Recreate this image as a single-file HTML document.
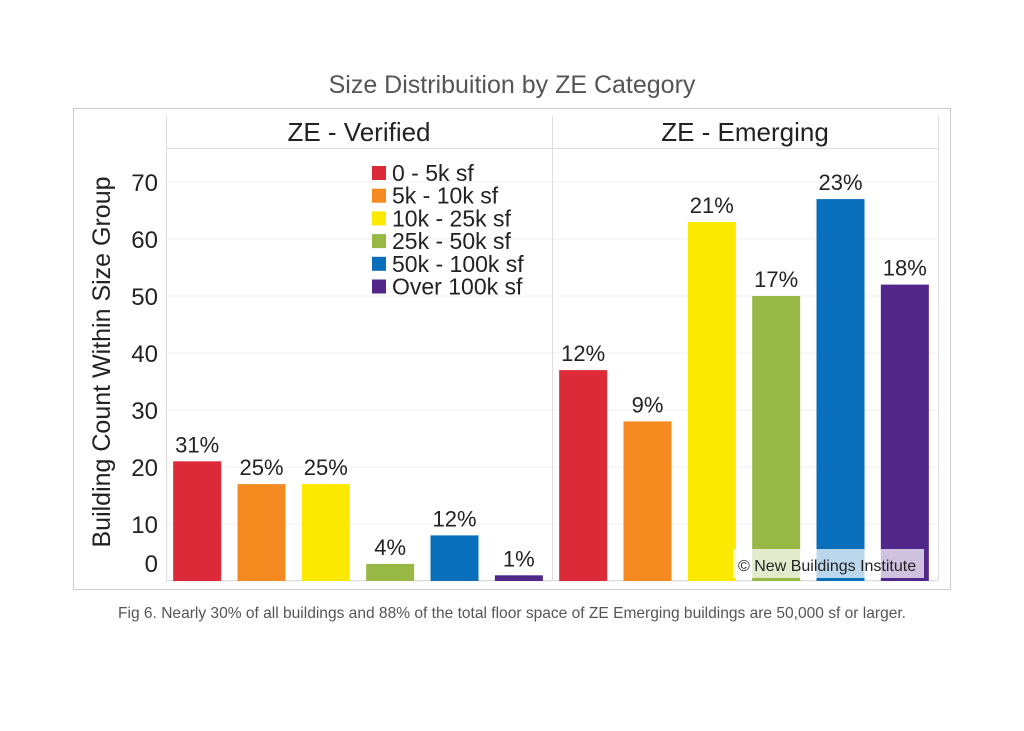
<!DOCTYPE html>
<html><head><meta charset="utf-8"><style>
body{margin:0;background:#fff;}
svg{display:block;font-family:"Liberation Sans",sans-serif;}
</style></head><body>
<svg id="chart" width="1024" height="731" viewBox="0 0 1024 731">
<text x="512" y="93" text-anchor="middle" font-size="25" fill="#555">Size Distribuition by ZE Category</text>
<rect x="73.5" y="108.5" width="877" height="481" fill="none" stroke="#ccc"/>
<g id="grid"></g>
<rect x="166" y="116" width="772" height="32" fill="#fff"/>
<line x1="166" y1="148.5" x2="938" y2="148.5" stroke="#ddd"/>
<line x1="166.5" y1="116" x2="166.5" y2="581" stroke="#ddd"/>
<line x1="552.5" y1="116" x2="552.5" y2="581" stroke="#ddd"/>
<line x1="938.5" y1="116" x2="938.5" y2="581" stroke="#ddd"/>
<line x1="166" y1="580.5" x2="938" y2="580.5" stroke="#ddd"/>
<text x="359" y="141" text-anchor="middle" font-size="26" fill="#222">ZE - Verified</text>
<text x="745" y="141" text-anchor="middle" font-size="26" fill="#222">ZE - Emerging</text>
<text transform="translate(110,362) rotate(-90)" text-anchor="middle" font-size="25" fill="#222">Building Count Within Size Group</text>
<g id="bars"></g>
<g id="legend"></g>
<rect x="733" y="549" width="191" height="29" fill="#fff" fill-opacity="0.72"/>
<text x="738" y="571" font-size="16" fill="#222">© New Buildings Institute</text>
<text x="512" y="618" text-anchor="middle" font-size="16" fill="#555" textLength="788" lengthAdjust="spacingAndGlyphs">Fig 6. Nearly 30% of all buildings and 88% of the total floor space of ZE Emerging buildings are 50,000 sf or larger.</text>
</svg>
<script>
const categories=["0 - 5k sf","5k - 10k sf","10k - 25k sf","25k - 50k sf","50k - 100k sf","Over 100k sf"];
const colors=["#dd2a38","#f58a20","#fbea00","#97b845","#0a6fba","#51278a"];
const panels=["ZE - Verified","ZE - Emerging"];
const verifiedCounts=[21,17,17,3,8,1];
const verifiedPct=["31%","25%","25%","4%","12%","1%"];
const emergingCounts=[37,28,63,50,67,52];
const emergingPct=["12%","9%","21%","17%","23%","18%"];
const yTicks=[0,10,20,30,40,50,60,70];
const NS="http://www.w3.org/2000/svg";
function y(v){return 581-5.7*v;}
const panelX=[166,552],panelW=386,band=panelW/6,barW=48;
function x(p,i){return panelX[p]+i*band+(band-barW)/2-1;}
function mk(t,a,parent){const e=document.createElementNS(NS,t);for(const k in a)e.setAttribute(k,a[k]);parent.appendChild(e);return e;}
const grid=document.getElementById('grid'),bars=document.getElementById('bars'),leg=document.getElementById('legend');
yTicks.forEach(t=>{
 const l=mk('line',{x1:166,x2:938,y1:y(t),y2:y(t),stroke:'#f0f0f0'},grid);
 
 
 const tx=mk('text',{x:158,y:Math.min(y(t)+9,572),'text-anchor':'end','font-size':24,fill:'#222'},grid);
 tx.textContent=t;
 
 
});
[[verifiedCounts,verifiedPct],[emergingCounts,emergingPct]].forEach((d,p)=>{
 d[0].forEach((v,i)=>{
  const r=mk('rect',{x:x(p,i),y:y(v),width:barW,height:y(0)-y(v),fill:colors[i]},bars);
  
  
  const t=mk('text',{x:x(p,i)+barW/2,y:y(v)-9,'text-anchor':'middle','font-size':22,fill:'#222'},bars);
  t.textContent=d[1][i];
  
  
 });
});
categories.forEach((c,i)=>{
 const yy=173+i*22.7;
 const s=mk('rect',{x:372,y:yy-7,width:14,height:14,fill:colors[i]},leg);
 
 
 const t=mk('text',{x:392,y:yy+8,'font-size':23,fill:'#222'},leg);
 t.textContent=c;
 
 
});
</script>
</body></html>
